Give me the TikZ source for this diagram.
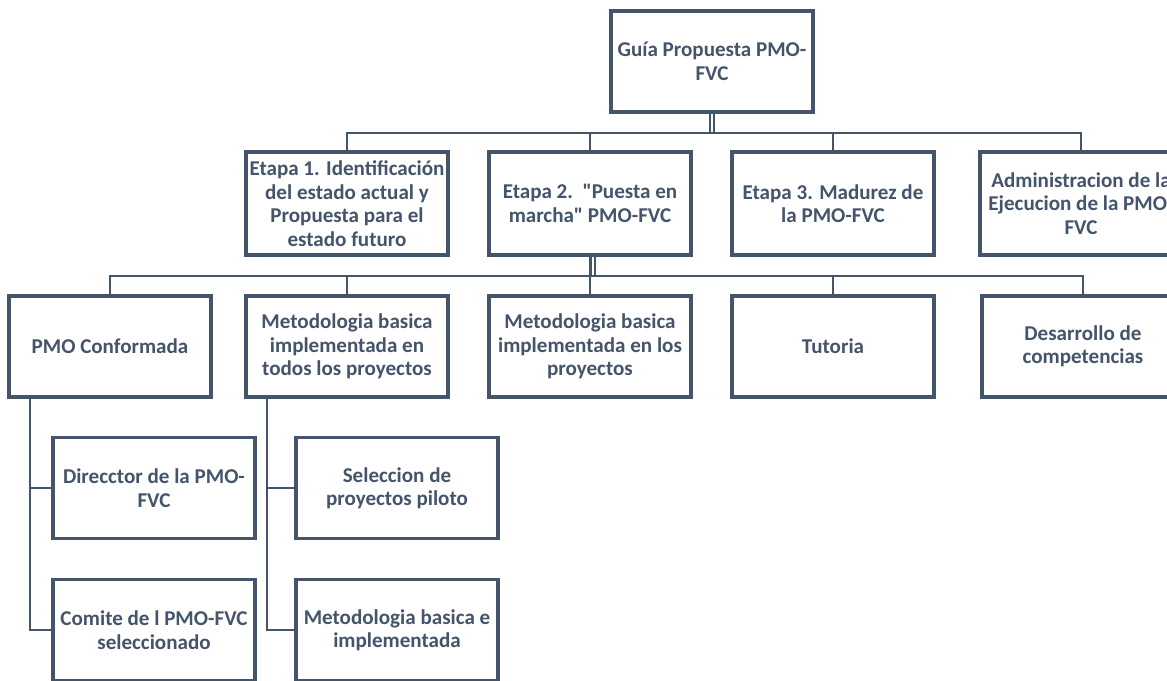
\documentclass[tikz,border=0pt]{standalone}
\usepackage{fontspec}
\setmainfont{Carlito}[Ligatures=TeXOff]
\definecolor{pizarra}{HTML}{44546A}
\tikzset{
  caja/.style={draw=pizarra, line width=2.6pt, fill=white, text=pizarra,
    font=\fontsize{15.8}{17.6}\selectfont\bfseries, align=center,
    minimum width=151.5pt, minimum height=76pt, inner sep=1pt},
  linea/.style={draw=pizarra, line width=2pt},
  doble/.style={draw=pizarra, line width=1.8pt, double=white, double distance=1.4pt}
}

\begin{document}
\begin{tikzpicture}[x=0.75pt,y=-0.75pt]
  \useasboundingbox (0,0) rectangle (1167,681);
  \clip (0,0) rectangle (1167,681);

  \node[caja] (guia) at (712,61.5) {Guía Propuesta PMO-\\FVC};

  \node[caja,minimum height=77pt] (e1) at (347,203.5) {Etapa 1. Identificación\\del estado actual y\\Propuesta para el\\estado futuro};
  \node[caja,minimum height=77pt] (e2) at (590,203.5) {Etapa 2.\ \ "Puesta en\\marcha" PMO-FVC};
  \node[caja,minimum height=77pt] (e3) at (833,203.5) {Etapa 3. Madurez de\\la PMO-FVC};
  \node[caja,minimum height=77pt] (adm) at (1081,203.5) {Administracion de la\\Ejecucion de la PMO-\\FVC};

  \node[caja] (pmo) at (110,346.5) {PMO Conformada};
  \node[caja] (met1) at (347,346.5) {Metodologia basica\\implementada en\\todos los proyectos};
  \node[caja] (met2) at (590,346.5) {Metodologia basica\\implementada en los\\proyectos};
  \node[caja] (tut) at (833,346.5) {Tutoria};
  \node[caja] (des) at (1083,346.5) {Desarrollo de\\competencias};

  \node[caja] (dir) at (154,488) {Direcctor de la PMO-\\FVC};
  \node[caja] (com) at (154,630) {Comite de l PMO-FVC\\seleccionado};
  \node[caja] (sel) at (397,488) {Seleccion de\\proyectos piloto};
  \node[caja] (mbi) at (397,630) {Metodologia basica e\\implementada};

  \coordinate (b1) at (0,133);
  \coordinate (b2) at (0,276);

  \draw[doble] (guia.south) -- (guia.south |- b1);
  \draw[doble] ([xshift=2pt]e2.south) -- ([xshift=2pt]e2.south |- b2);

  \draw[linea] (e1.north) -- (e1.north |- b1) -- (adm.north |- b1) -- (adm.north);
  \foreach \n in {e2,e3}
    \draw[linea] (\n.north) -- (\n.north |- b1);

  \draw[linea] (pmo.north) -- (pmo.north |- b2) -- (des.north |- b2) -- (des.north);
  \foreach \n in {met1,met2,tut}
    \draw[linea] (\n.north) -- (\n.north |- b2);

  \coordinate (t1) at ([xshift=17pt]pmo.south west);
  \coordinate (t2) at ([xshift=17pt]met1.south west);
  \draw[linea] (t1) |- (com.west);
  \draw[linea] (t1 |- dir.west) -- (dir.west);
  \draw[linea] (t2) |- (mbi.west);
  \draw[linea] (t2 |- sel.west) -- (sel.west);
\end{tikzpicture}
\end{document}
